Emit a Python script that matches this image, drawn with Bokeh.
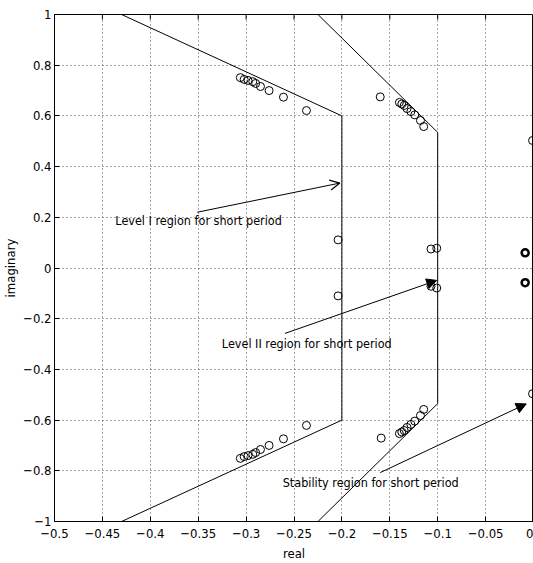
from bokeh.plotting import figure
from bokeh.models import (FixedTicker, Arrow, OpenHead, NormalHead,
                          ColumnDataSource, Range1d)
from bokeh.core.properties import value
from bokeh.embed import file_html
from bokeh.resources import INLINE

# ---- data ----
x_ticks = [-0.5, -0.45, -0.4, -0.35, -0.3, -0.25, -0.2, -0.15, -0.1, -0.05, 0.0]
x_tick_labels = ["\u22120.5", "\u22120.45", "\u22120.4", "\u22120.35", "\u22120.3", "\u22120.25",
                 "\u22120.2", "\u22120.15", "\u22120.1", "\u22120.05", "0"]
y_ticks = [-1.0, -0.8, -0.6, -0.4, -0.2, 0.0, 0.2, 0.4, 0.6, 0.8, 1.0]
y_tick_labels = ["\u22121", "\u22120.8", "\u22120.6", "\u22120.4", "\u22120.2", "0",
                 "0.2", "0.4", "0.6", "0.8", "1"]

level1_bx = [-0.43, -0.2, -0.2, -0.43]
level1_by = [1.0, 0.6, -0.6, -1.0]
level2_bx = [-0.225, -0.1, -0.1, -0.225]
level2_by = [1.0, 0.535, -0.535, -1.0]

poles1_x = [-0.306, -0.302, -0.298, -0.293, -0.290, -0.285, -0.276, -0.261, -0.237, -0.204,
            -0.306, -0.302, -0.298, -0.293, -0.290, -0.285, -0.276, -0.261, -0.237, -0.204]
poles1_y = [0.751, 0.744, 0.740, 0.735, 0.728, 0.716, 0.700, 0.674, 0.621, 0.111,
            -0.751, -0.744, -0.740, -0.735, -0.728, -0.716, -0.700, -0.674, -0.621, -0.110]

poles2_x = [-0.160, -0.140, -0.1375, -0.135, -0.132, -0.128, -0.124, -0.118, -0.1146, -0.107, -0.101,
            -0.159, -0.140, -0.1375, -0.135, -0.132, -0.128, -0.124, -0.118, -0.1146, -0.107, -0.101]
poles2_y = [0.675, 0.653, 0.647, 0.641, 0.629, 0.617, 0.604, 0.582, 0.558, 0.075, 0.078,
            -0.671, -0.653, -0.647, -0.641, -0.629, -0.617, -0.604, -0.582, -0.558, -0.072, -0.079]

poles_bold_x = [-0.0087, -0.0087]
poles_bold_y = [0.060, -0.058]
poles_edge_x = [-0.001, -0.001]
poles_edge_y = [0.503, -0.496]

labels = ["Level I region for short period",
          "Level II region for short period",
          "Stability region for short period"]
label_x = [-0.4365, -0.3253, -0.2618]
label_y = [0.187, -0.299, -0.845]
arrow_x0 = [-0.351, -0.2594, -0.160]
arrow_y0 = [0.220, -0.258, -0.807]
arrow_x1 = [-0.2021, -0.101, -0.0076]
arrow_y1 = [0.335, -0.049, -0.536]

FONT = "'DejaVu Sans Condensed', 'Liberation Sans', sans-serif"

p = figure(width=533, height=563, output_backend="svg", toolbar_location=None,
           x_range=Range1d(-0.5, 0.0), y_range=Range1d(-1.0, 1.0),
           min_border_left=54, min_border_right=0, min_border_top=14, min_border_bottom=42,
           x_axis_label="real", y_axis_label="imaginary")
p.background_fill_color = "white"
p.border_fill_color = "white"
p.outline_line_color = "black"
p.outline_line_width = 1

for ax in (p.xaxis[0], p.yaxis[0]):
    ax.major_tick_in = 5
    ax.major_tick_out = 0
    ax.minor_tick_in = 0
    ax.minor_tick_out = 0
    ax.axis_line_color = "black"
    ax.major_tick_line_color = "black"
    ax.major_label_text_font = FONT
    ax.major_label_text_font_size = "13px"
    ax.major_label_text_color = "black"
    ax.axis_label_text_font = FONT
    ax.axis_label_text_font_size = "13px"
    ax.axis_label_text_font_style = "normal"
    ax.axis_label_text_color = "black"

p.xaxis[0].ticker = FixedTicker(ticks=x_ticks)
p.xaxis[0].major_label_overrides = dict(zip(x_ticks, x_tick_labels))
p.xaxis[0].major_label_standoff = 7
p.xaxis[0].axis_label_standoff = 5
p.yaxis[0].ticker = FixedTicker(ticks=y_ticks)
p.yaxis[0].major_label_overrides = dict(zip(y_ticks, y_tick_labels))
p.yaxis[0].major_label_standoff = 3
p.yaxis[0].axis_label_standoff = 2

for g in (p.xgrid[0], p.ygrid[0]):
    g.grid_line_color = "black"
    g.grid_line_alpha = 0.7
    g.grid_line_dash = "1 3"
    g.grid_line_width = 1
p.xgrid[0].ticker = FixedTicker(ticks=x_ticks)
p.ygrid[0].ticker = FixedTicker(ticks=y_ticks)

# inward tick marks along the top edge of the box
p.segment(x0=x_ticks, y0=[1.0] * len(x_ticks), x1=x_ticks, y1=[0.98] * len(x_ticks),
          line_color="black", line_width=1)

p.line(level1_bx, level1_by, line_color="black", line_width=1)
p.line(level2_bx, level2_by, line_color="black", line_width=1)

p.scatter(poles1_x, poles1_y, marker="circle", size=8, fill_color=None,
          line_color="black", line_width=1)
p.scatter(poles2_x, poles2_y, marker="circle", size=8, fill_color=None,
          line_color="black", line_width=1)
p.scatter(poles_bold_x, poles_bold_y, marker="circle", size=7, fill_color=None,
          line_color="black", line_width=2.5)
p.scatter(poles_edge_x, poles_edge_y, marker="circle", size=8, fill_color=None,
          line_color="black", line_width=1)

src = ColumnDataSource(dict(x=label_x, y=label_y, t=labels))
p.text(x="x", y="y", text="t", source=src, text_font=value(FONT),
       text_font_size="12.5px", text_align="left", text_baseline="middle",
       text_color="black")

heads = [OpenHead(size=10, line_width=1.2), NormalHead(size=10, fill_color="black"),
         NormalHead(size=10, fill_color="black")]
for i in range(3):
    p.add_layout(Arrow(x_start=arrow_x0[i], y_start=arrow_y0[i],
                       x_end=arrow_x1[i], y_end=arrow_y1[i],
                       line_color="black", line_width=1, end=heads[i]))

open("out.html", "w").write(file_html(p, INLINE))
